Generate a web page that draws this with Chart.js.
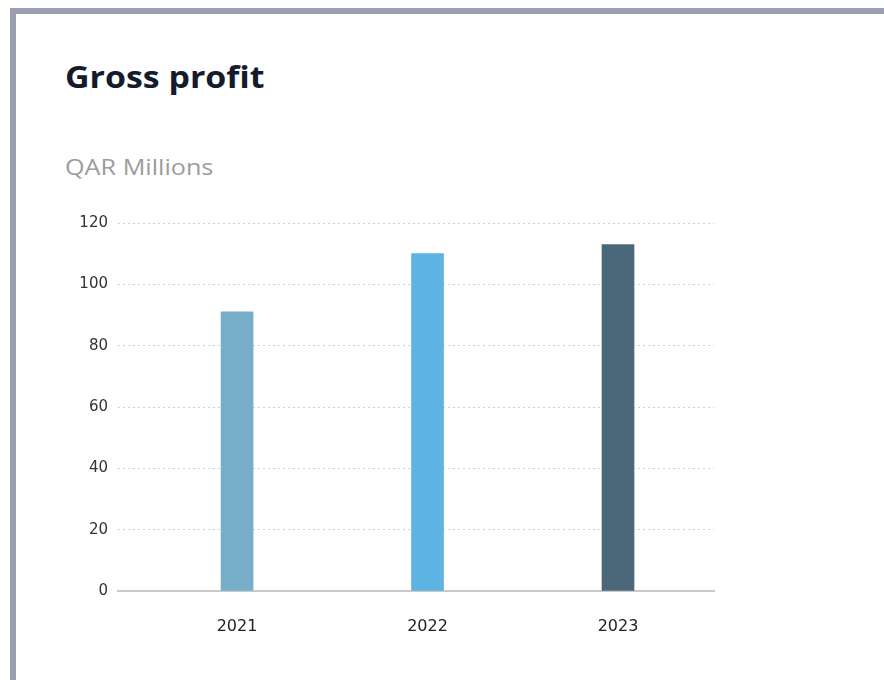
<!DOCTYPE html>
<html>
<head>
<meta charset="utf-8">
<script src="https://cdn.jsdelivr.net/npm/chart.js@4"></script>
<style>
  html, body { margin: 0; padding: 0; background: #fff; overflow: hidden; }
  body { width: 884px; height: 680px; position: relative; }
  .card {
    position: absolute; left: 10px; top: 8px; width: 1000px; height: 800px;
    border-top: 6px solid #9c9eb1; border-left: 6px solid #9c9eb1; background: #fff;
  }
  .title {
    position: absolute; left: 65px; top: 56px; margin: 0;
    font: 700 30px "Open Sans", sans-serif; color: #151b2c;
    transform: scaleX(1.13); transform-origin: left top; white-space: nowrap;
  }
  .unit {
    position: absolute; left: 65px; top: 153px;
    font: 400 21px "Open Sans", sans-serif; color: #9c9c9c;
    transform: scaleX(1.2); transform-origin: left top; white-space: nowrap;
  }
  #chartWrap { position: absolute; left: 0; top: 0; width: 884px; height: 680px; }
</style>
</head>
<body>
<div class="card"></div>
<h2 class="title">Gross profit</h2>
<div class="unit">QAR Millions</div>
<div id="chartWrap"><canvas id="grossProfitChart"></canvas></div>

<script>
// Gross profit by year, QAR millions
const years = ["2021", "2022", "2023"];
const grossProfit = [91, 110, 113];
const barColors = ["#77aec8", "#5db3e2", "#4a6879"];
const yTicks = [0, 20, 40, 60, 80, 100, 120];

function renderChart() {
  const ctx = document.getElementById("grossProfitChart");
  if (!ctx) return;

  new Chart(ctx, {
    type: "bar",
    data: {
      datasets: [{
        label: "Gross profit",
        data: years.map((_, i) => ({ x: i, y: grossProfit[i] })),
        backgroundColor: barColors,
        borderWidth: 0,
        barThickness: 32
      }]
    },
    options: {
      responsive: true,
      maintainAspectRatio: false,
      animation: false,
      layout: { padding: { top: 223, right: 170, bottom: 39, left: 0 } },
      scales: {
        x: {
          // linear index axis so the first bar sits further from the y labels
          type: "linear",
          offset: false,
          min: -0.625,
          max: 2.504,
          grid: { display: false, drawTicks: false },
          border: { display: true, color: "#c9c9c9", width: 2 },
          afterFit: (scale) => { scale.height = 50; },
          ticks: {
            stepSize: 1,
            padding: 26,
            color: "#222",
            font: { family: "'DejaVu Sans', sans-serif", size: 16 },
            callback: (v) => (Number.isInteger(v) && years[v] ? years[v] : "")
          }
        },
        y: {
          min: yTicks[0],
          max: yTicks[yTicks.length - 1],
          afterFit: (scale) => { scale.width = 118; },
          afterBuildTicks: (scale) => { scale.ticks = yTicks.map(v => ({ value: v })); },
          grid: { color: "#cfcfcf", lineWidth: 1, drawTicks: false },
          border: { display: false, dash: [2, 3] },
          ticks: {
            padding: 10,
            color: "#333",
            font: { family: "'DejaVu Sans', sans-serif", size: 15 }
          }
        }
      },
      plugins: {
        legend: { display: false },
        tooltip: { enabled: false }
      }
    }
  });
}

document.addEventListener("DOMContentLoaded", renderChart);
</script>
</body>
</html>
